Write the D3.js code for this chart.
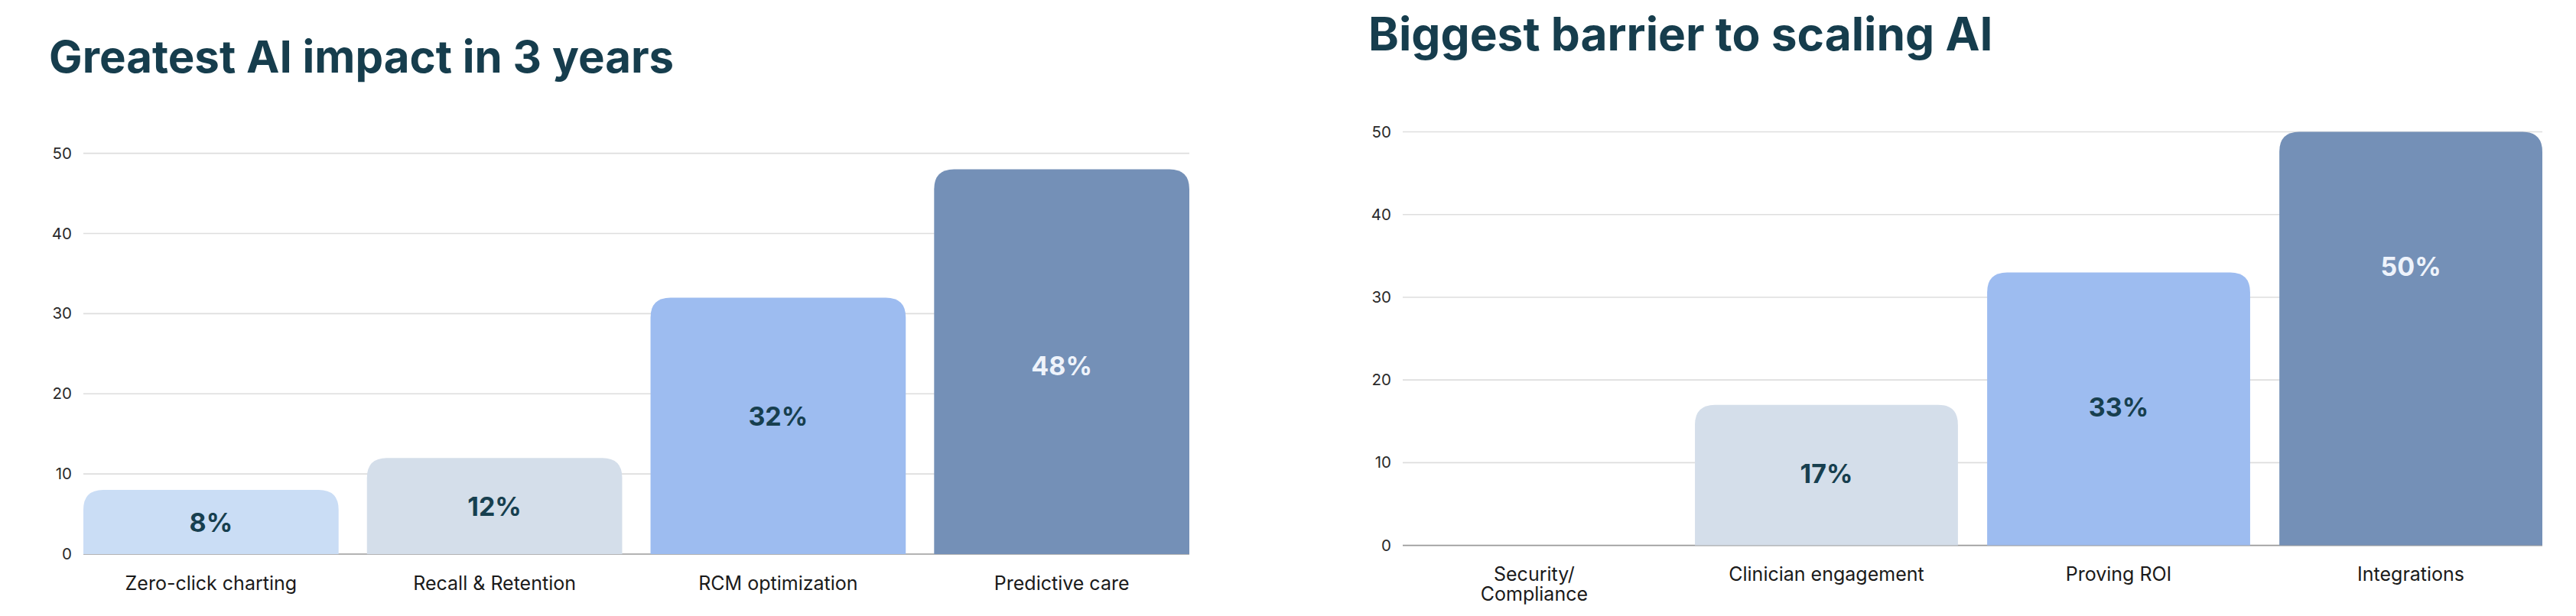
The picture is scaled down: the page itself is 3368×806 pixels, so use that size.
<!DOCTYPE html>
<html>
<head>
<meta charset="utf-8">
<script src="https://cdn.jsdelivr.net/npm/d3@7"></script>
<style>
  html, body { margin: 0; padding: 0; background: #ffffff; }
  svg { display: block; }
</style>
</head>
<body>
<svg id="chart" width="3368" height="806"></svg>
<script>
// ---- Data ----
const impactTitle = "Greatest AI impact in 3 years";
const impactCategories = ["Zero-click charting", "Recall & Retention", "RCM optimization", "Predictive care"];
const impactValues = [8, 12, 32, 48];
const impactLabels = ["8%", "12%", "32%", "48%"];
const impactLabelAt = [4.0, 6.0, 17.2, 23.5];

const barrierTitle = "Biggest barrier to scaling AI";
const barrierCategories = [["Security/", "Compliance"], ["Clinician engagement"], ["Proving ROI"], ["Integrations"]];
const barrierValues = [0, 17, 33, 50];
const barrierLabels = ["", "17%", "33%", "50%"];
const barrierLabelAt = [0, 8.7, 16.7, 33.7];

const yTicks = [0, 10, 20, 30, 40, 50];
const barColors = ["#CADDF5", "#D4DEEA", "#9DBCF0", "#7490B7"];
const labelColors = ["#173F4F", "#173F4F", "#173F4F", "#EEF3FB"];

// ---- Drawing ----
const svg = d3.select("#chart");
const FONT = "Inter, 'Noto Sans', sans-serif";

function topRoundedRect(x, y, w, h, r) {
  if (h <= 0) return "";
  r = Math.min(r, h, w / 2);
  return `M${x},${y + h}V${y + r}Q${x},${y} ${x + r},${y}H${x + w - r}Q${x + w},${y} ${x + w},${y + r}V${y + h}Z`;
}

function drawChart(cfg) {
  const g = svg.append("g");
  const x = d3.scaleBand().domain(d3.range(cfg.categories.length))
    .range([cfg.left, cfg.right]).paddingInner(0.1).paddingOuter(0);
  const y = d3.scaleLinear().domain([0, 50]).range([cfg.bottom, cfg.top]);

  // title
  g.append("text")
    .attr("x", cfg.titleX).attr("y", cfg.titleY)
    .attr("font-family", FONT).attr("font-weight", 700)
    .attr("font-size", cfg.titleSize).attr("fill", "#163D4D")
    .text(cfg.title);

  // gridlines
  g.append("g").selectAll("line").data(yTicks.filter(d => d !== 0)).join("line")
    .attr("x1", cfg.left).attr("x2", cfg.right)
    .attr("y1", d => y(d)).attr("y2", d => y(d))
    .attr("stroke", "#DEDEDE").attr("stroke-width", 1.6);

  // y axis labels
  const yAxis = d3.axisLeft(y).tickValues(yTicks).tickSize(0).tickPadding(0);
  const ya = g.append("g").attr("transform", `translate(${cfg.left - 15},0)`).call(yAxis);
  ya.select(".domain").remove();
  ya.selectAll("text").attr("font-family", FONT).attr("font-size", 20.5).attr("fill", "#2a2a2a");

  // baseline
  g.append("line").attr("x1", cfg.left).attr("x2", cfg.right)
    .attr("y1", y(0)).attr("y2", y(0)).attr("stroke", "#9a9a9a").attr("stroke-width", 1.6);

  // bars
  g.append("g").selectAll("path").data(cfg.values).join("path")
    .attr("d", (d, i) => topRoundedRect(x(i), y(d), x.bandwidth(), y(0) - y(d), 26))
    .attr("fill", (d, i) => barColors[i]);

  // value labels
  g.append("g").selectAll("text").data(cfg.labels).join("text")
    .attr("x", (d, i) => x(i) + x.bandwidth() / 2)
    .attr("y", (d, i) => y(cfg.labelAt[i]))
    .attr("text-anchor", "middle").attr("dominant-baseline", "central")
    .attr("font-family", FONT).attr("font-weight", 700).attr("font-size", 34)
    .attr("fill", (d, i) => labelColors[i])
    .text(d => d);

  // category labels
  const cats = g.append("g").selectAll("text").data(cfg.categories).join("text")
    .attr("x", (d, i) => x(i) + x.bandwidth() / 2)
    .attr("y", y(0) + 46.5)
    .attr("text-anchor", "middle")
    .attr("font-family", FONT).attr("font-size", 25).attr("fill", "#1a1a1a");
  cats.each(function(d) {
    const lines = Array.isArray(d) ? d : [d];
    const t = d3.select(this);
    lines.forEach((ln, k) => {
      t.append("tspan").attr("x", t.attr("x")).attr("dy", k === 0 ? 0 : 26).text(ln);
    });
  });
}

drawChart({
  title: impactTitle, titleX: 64, titleY: 95, titleSize: 58.2,
  categories: impactCategories, values: impactValues, labels: impactLabels, labelAt: impactLabelAt,
  left: 109, right: 1555, top: 200.6, bottom: 725
});

drawChart({
  title: barrierTitle, titleX: 1789, titleY: 65.7, titleSize: 60.4,
  categories: barrierCategories, values: barrierValues, labels: barrierLabels, labelAt: barrierLabelAt,
  left: 1834, right: 3324, top: 172.5, bottom: 713.6
});
</script>
</body>
</html>
